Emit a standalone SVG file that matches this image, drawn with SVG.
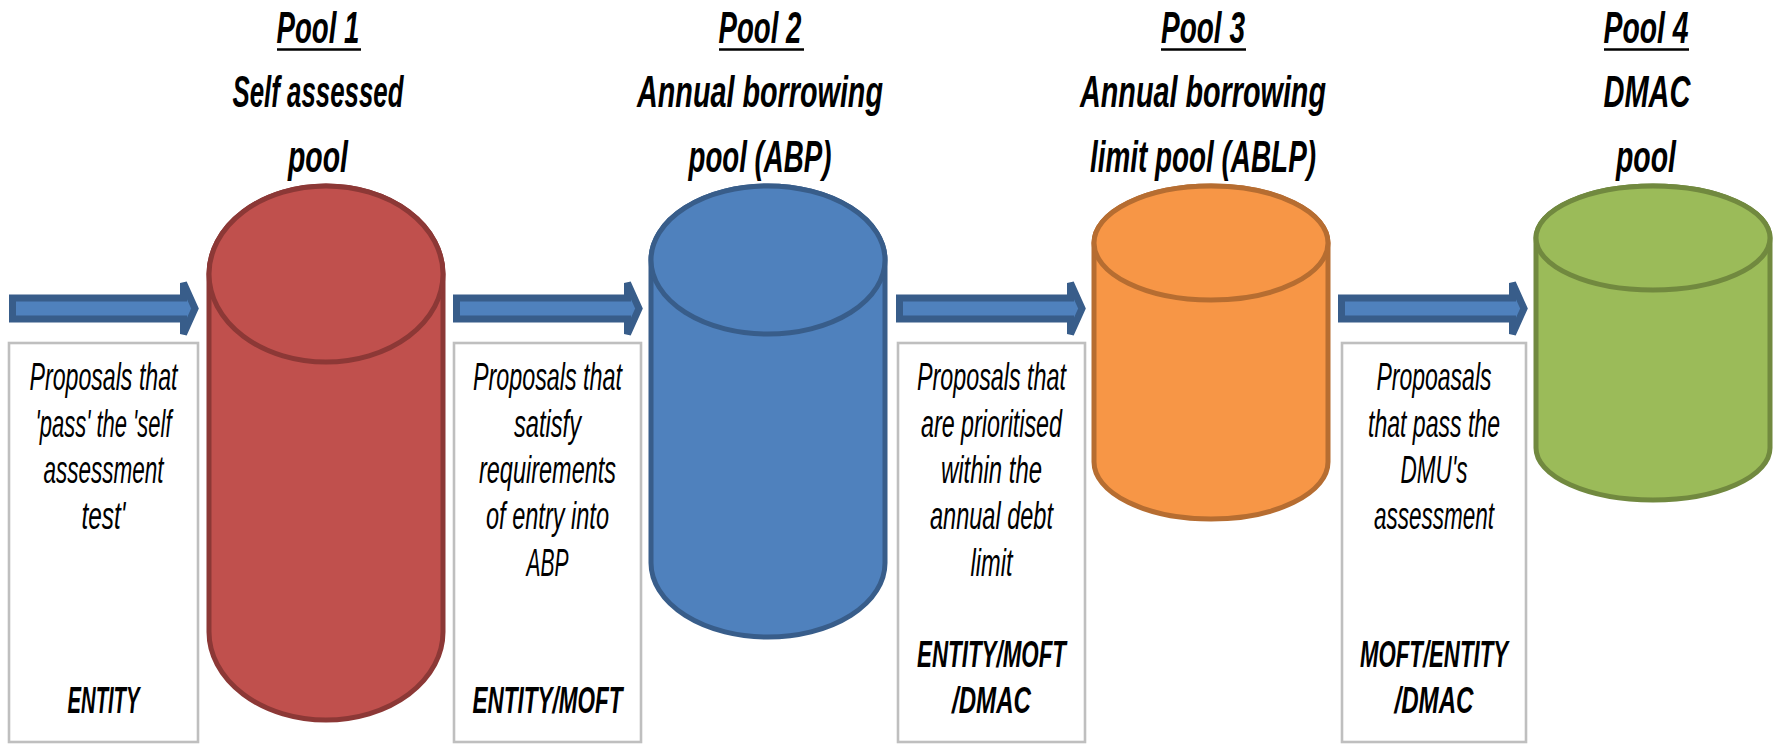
<svg xmlns="http://www.w3.org/2000/svg" xmlns:xlink="http://www.w3.org/1999/xlink" width="1781" height="744" viewBox="0 0 1781 744">
  <style>
    text { font-family: "Liberation Sans", Arial, sans-serif; fill: #000; text-anchor: middle; }
    .title { font-size: 45px; font-weight: bold; font-style: italic; }
    .note { font-size: 39px; font-style: italic; }
    .who { font-size: 36px; font-weight: bold; font-style: italic; }
    .uline { stroke: #000; stroke-width: 2.6; }
    .box { fill: #fff; stroke: #bfbfbf; stroke-width: 2.6; }
    .flow { fill: #4f81bd; stroke: #385d8a; stroke-width: 7; stroke-linejoin: miter; }
    .red { fill: #c0504d; stroke: #8c3836; stroke-width: 5; }
    .blue { fill: #4f81bd; stroke: #385d8a; stroke-width: 5; }
    .orange { fill: #f79646; stroke: #b66d31; stroke-width: 5; }
    .green { fill: #9bbb59; stroke: #71893f; stroke-width: 5; }
  </style>
  <defs>
    <!-- block arrow, origin at left end of shaft, centre line y=0 -->
    <path id="blockArrow" d="M3.5,-10.5 H174.5 V-25.5 L186,0 L174.5,25.5 V10.5 H3.5 Z"/>
  </defs>

  <!-- flow arrows -->
  <g id="connectors">
    <use xlink:href="#blockArrow" class="flow" x="9" y="308.5"/>
    <use xlink:href="#blockArrow" class="flow" x="453" y="308.5"/>
    <use xlink:href="#blockArrow" class="flow" x="896" y="308.5"/>
    <use xlink:href="#blockArrow" class="flow" x="1338" y="308.5"/>
  </g>

  <!-- Pool 1 -->
  <g id="pool1">
    <text class="title" x="318" y="43" textLength="83" lengthAdjust="spacingAndGlyphs">Pool 1</text>
    <line class="uline" x1="277" y1="49.5" x2="361" y2="49.5"/>
    <text class="title" x="318" y="107" textLength="171" lengthAdjust="spacingAndGlyphs">Self assessed</text>
    <text class="title" x="318" y="172" textLength="60" lengthAdjust="spacingAndGlyphs">pool</text>
    <path class="red" d="M209,274 V632 A117,88 0 0 0 443,632 V274 A117,88 0 0 0 209,274 Z"/>
    <ellipse class="red" cx="326" cy="274" rx="117" ry="88"/>
  </g>

  <!-- Pool 2 -->
  <g id="pool2">
    <text class="title" x="760" y="43" textLength="83" lengthAdjust="spacingAndGlyphs">Pool 2</text>
    <line class="uline" x1="719" y1="49.5" x2="804" y2="49.5"/>
    <text class="title" x="760" y="107" textLength="246" lengthAdjust="spacingAndGlyphs">Annual borrowing</text>
    <text class="title" x="760" y="172" textLength="143" lengthAdjust="spacingAndGlyphs">pool (ABP)</text>
    <path class="blue" d="M651,260 V563 A117,74 0 0 0 885,563 V260 A117,74 0 0 0 651,260 Z"/>
    <ellipse class="blue" cx="768" cy="260" rx="117" ry="74"/>
  </g>

  <!-- Pool 3 -->
  <g id="pool3">
    <text class="title" x="1203" y="43" textLength="84" lengthAdjust="spacingAndGlyphs">Pool 3</text>
    <line class="uline" x1="1161" y1="49.5" x2="1246" y2="49.5"/>
    <text class="title" x="1203" y="107" textLength="246" lengthAdjust="spacingAndGlyphs">Annual borrowing</text>
    <text class="title" x="1203" y="172" textLength="226" lengthAdjust="spacingAndGlyphs">limit pool (ABLP)</text>
    <path class="orange" d="M1094,243 V462 A117,57 0 0 0 1328,462 V243 A117,57 0 0 0 1094,243 Z"/>
    <ellipse class="orange" cx="1211" cy="243" rx="117" ry="57"/>
  </g>

  <!-- Pool 4 -->
  <g id="pool4">
    <text class="title" x="1646" y="43" textLength="85" lengthAdjust="spacingAndGlyphs">Pool 4</text>
    <line class="uline" x1="1604" y1="49.5" x2="1689" y2="49.5"/>
    <text class="title" x="1647" y="107" textLength="87" lengthAdjust="spacingAndGlyphs">DMAC</text>
    <text class="title" x="1646" y="172" textLength="60" lengthAdjust="spacingAndGlyphs">pool</text>
    <path class="green" d="M1536,238 V448 A117,52 0 0 0 1770,448 V238 A117,52 0 0 0 1536,238 Z"/>
    <ellipse class="green" cx="1653" cy="238" rx="117" ry="52"/>
  </g>

  <!-- entry criteria boxes -->
  <g id="criteria1">
    <rect class="box" x="9" y="343" width="189" height="399"/>
    <text class="note" x="103.5" y="390" textLength="148" lengthAdjust="spacingAndGlyphs">Proposals that</text>
    <text class="note" x="103.5" y="437" textLength="136" lengthAdjust="spacingAndGlyphs">'pass' the 'self</text>
    <text class="note" x="103.5" y="483" textLength="120" lengthAdjust="spacingAndGlyphs">assessment</text>
    <text class="note" x="103.5" y="529" textLength="44" lengthAdjust="spacingAndGlyphs">test'</text>
    <text class="who" x="103.5" y="713" textLength="72" lengthAdjust="spacingAndGlyphs">ENTITY</text>
  </g>

  <g id="criteria2">
    <rect class="box" x="454" y="343" width="187" height="399"/>
    <text class="note" x="547.5" y="390" textLength="149" lengthAdjust="spacingAndGlyphs">Proposals that</text>
    <text class="note" x="547.5" y="437" textLength="67" lengthAdjust="spacingAndGlyphs">satisfy</text>
    <text class="note" x="547.5" y="483" textLength="137" lengthAdjust="spacingAndGlyphs">requirements</text>
    <text class="note" x="547.5" y="529" textLength="123" lengthAdjust="spacingAndGlyphs">of entry into</text>
    <text class="note" x="547.5" y="576" textLength="42" lengthAdjust="spacingAndGlyphs">ABP</text>
    <text class="who" x="547.5" y="713" textLength="150" lengthAdjust="spacingAndGlyphs">ENTITY/MOFT</text>
  </g>

  <g id="criteria3">
    <rect class="box" x="898" y="343" width="187" height="399"/>
    <text class="note" x="991.5" y="390" textLength="149" lengthAdjust="spacingAndGlyphs">Proposals that</text>
    <text class="note" x="991.5" y="437" textLength="141" lengthAdjust="spacingAndGlyphs">are prioritised</text>
    <text class="note" x="991.5" y="483" textLength="101" lengthAdjust="spacingAndGlyphs">within the</text>
    <text class="note" x="991.5" y="529" textLength="123" lengthAdjust="spacingAndGlyphs">annual debt</text>
    <text class="note" x="991.5" y="576" textLength="42" lengthAdjust="spacingAndGlyphs">limit</text>
    <text class="who" x="991.5" y="667" textLength="149" lengthAdjust="spacingAndGlyphs">ENTITY/MOFT</text>
    <text class="who" x="991.5" y="713" textLength="79" lengthAdjust="spacingAndGlyphs">/DMAC</text>
  </g>

  <g id="criteria4">
    <rect class="box" x="1342" y="343" width="184" height="399"/>
    <text class="note" x="1434" y="390" textLength="115" lengthAdjust="spacingAndGlyphs">Propoasals</text>
    <text class="note" x="1434" y="437" textLength="132" lengthAdjust="spacingAndGlyphs">that pass the</text>
    <text class="note" x="1434" y="483" textLength="67" lengthAdjust="spacingAndGlyphs">DMU's</text>
    <text class="note" x="1434" y="529" textLength="120" lengthAdjust="spacingAndGlyphs">assessment</text>
    <text class="who" x="1434" y="667" textLength="148" lengthAdjust="spacingAndGlyphs">MOFT/ENTITY</text>
    <text class="who" x="1434" y="713" textLength="79" lengthAdjust="spacingAndGlyphs">/DMAC</text>
  </g>
</svg>
